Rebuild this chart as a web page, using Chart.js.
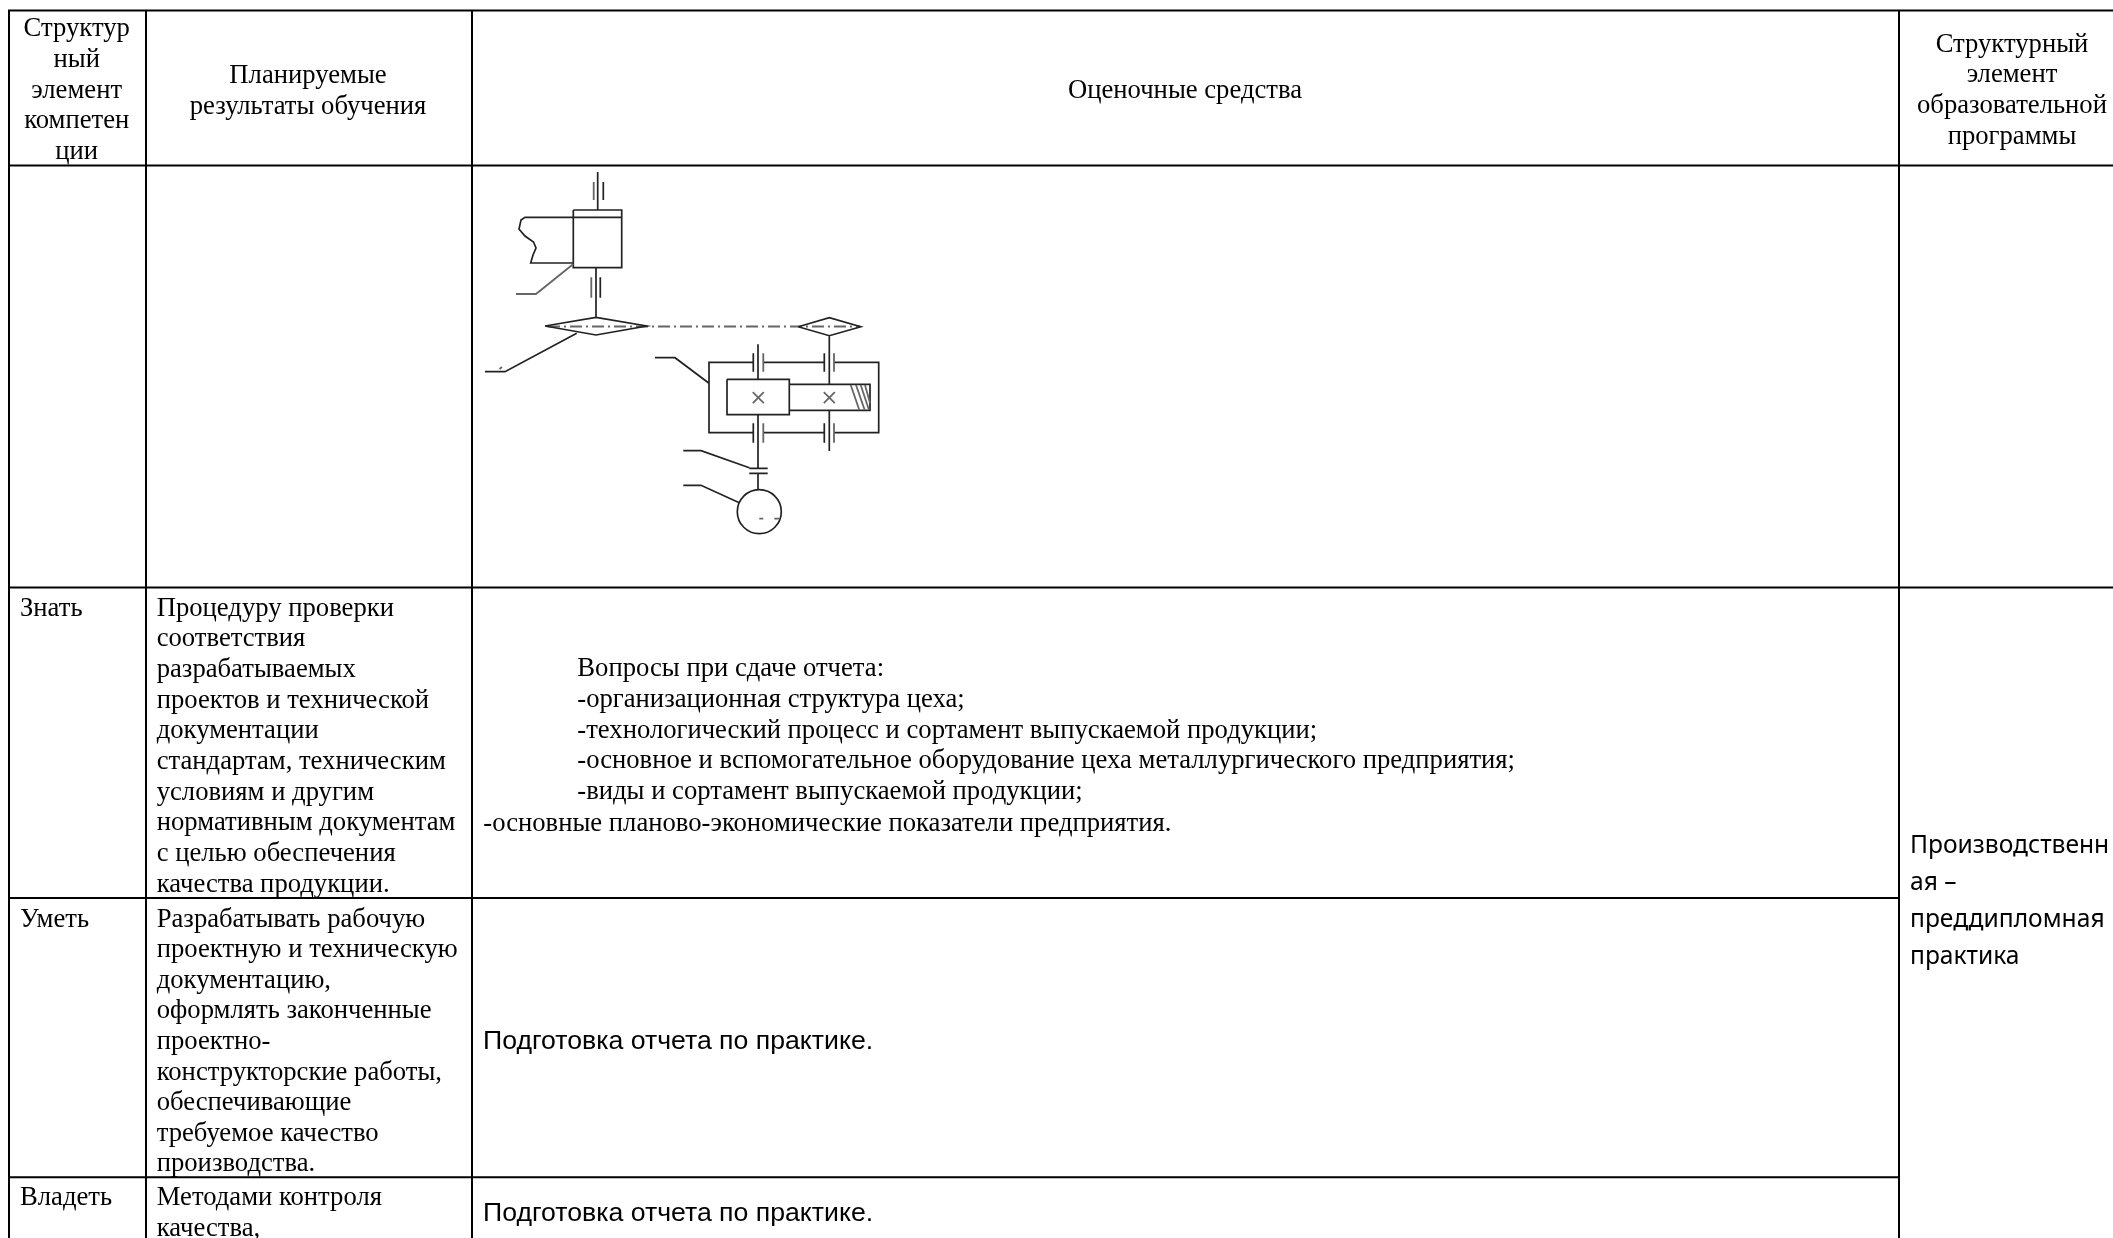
<!DOCTYPE html>
<html lang="ru"><head><meta charset="utf-8">
<style>html,body{margin:0;padding:0;background:#fff}canvas{display:block}</style>
<script src="https://cdn.jsdelivr.net/npm/chart.js@4"></script></head>
<body><canvas id="c" width="2113" height="1238"></canvas>
<script>
// --- table contents ---
const headerElement = ["Структур","ный","элемент","компетен","ции"];
const headerResults = ["Планируемые","результаты обучения"];
const headerTools = ["Оценочные средства"];
const headerProgram = ["Структурный","элемент","образовательной","программы"];
const levels = ["Знать","Уметь","Владеть"];
const knowResults = ["Процедуру проверки","соответствия","разрабатываемых","проектов и технической","документации","стандартам, техническим","условиям и другим","нормативным документам","с целью обеспечения","качества продукции."];
const canResults = ["Разрабатывать рабочую","проектную и техническую","документацию,","оформлять законченные","проектно-","конструкторские работы,","обеспечивающие","требуемое качество","производства."];
const ownResults = ["Методами контроля","качества,"];
const questions = ["Вопросы при сдаче отчета:","-организационная структура цеха;","-технологический процесс и сортамент выпускаемой продукции;","-основное и вспомогательное оборудование цеха металлургического предприятия;","-виды и сортамент выпускаемой продукции;"];
const questionsLast = ["-основные планово-экономические показатели предприятия."];
const reportTask = ["Подготовка отчета по практике."];
const programName = ["Производственн","ая –","преддипломная","практика"];

// --- table grid, in the units of the x and y scales ---
const columnEdges = [9,146,472,1899];
const fullRows = [10.5,165.5,587.5];
const partRows = [898,1177.3];
const pageRight = 2113, pageBottom = 1238;

// --- kinematic scheme strokes, in the same units ---
const schemeDark = [
 [[597.7,172],[597.7,210]],[[603.3,182],[603.3,200]],
 [[573.3,210],[621.7,210],[621.7,267.7],[573.3,267.7],[573.3,210]],
 [[573.3,217.3],[621.7,217.3]],
 [[573.3,263],[530.7,263],[533,255],[536,248],[533.5,242],[525,236],[519,229],[521,220],[525,217.3],[573.3,217.3]],
 [[596,267.7],[596,317.3]],[[600.3,277.3],[600.3,297.7]],
 [[545,326],[596,317.3],[646.7,326],[596,335],[545,326]],
 [[576.7,333.3],[505,371.7],[485,371.7]],
 [[798.3,326.7],[829.3,317.7],[860.7,326.7],[829.3,335.7],[798.3,326.7]],
 [[829.3,335.7],[829.3,384.3]],[[829.3,410.3],[829.3,451]],
 [[758,344.3],[758,379.3]],[[758,414.7],[758,468.3]],[[758,473.3],[758,489.3]],
 [[753.3,353.3],[753.3,371.7]],[[824.3,353.3],[824.3,371.7]],
 [[753.3,423.3],[753.3,442.7]],[[824.3,423.3],[824.3,442.7]],
 [[753.3,362.3],[709,362.3],[709,432.7],[753.3,432.7]],
 [[763.3,362.3],[824.3,362.3]],[[763.3,432.7],[824.3,432.7]],
 [[834,362.3],[878.7,362.3],[878.7,432.7],[834,432.7]],
 [[727,379.3],[789.3,379.3],[789.3,414.7],[727,414.7],[727,379.3]],
 [[789.3,384.3],[870,384.3],[870,410.3],[789.3,410.3]],
 [[749.3,468.3],[767.7,468.3]],[[749.3,473.3],[767.7,473.3]],
 [[683.3,450.7],[701,450.7],[749.3,467.7]],
 [[683.3,485.3],[701,485.3],[739.3,502.7]],
 [[655,357.7],[675,357.7],[709,383.3]]
];
const schemeGrey = [
 [[593.7,182],[593.7,200]],[[591.3,277.3],[591.3,297.7]],
 [[763.3,353.3],[763.3,371.7]],[[834,353.3],[834,371.7]],
 [[763.3,423.3],[763.3,442.7]],[[834,423.3],[834,442.7]],
 [[516,294],[536,294],[573.3,264]],
 [[752.8,392.2],[763.8,403.2]],[[763.8,392.2],[752.8,403.2]],
 [[823.8,392.2],[834.8,403.2]],[[834.8,392.2],[823.8,403.2]],
 [[850.7,385],[859.3,410]],[[856,385],[864.7,410]],[[860.7,385],[869,410]],[[865,385],[870,403]],
 [[759.3,518.7],[763.3,518.7]],[[774.3,518.7],[779.3,518.7]],[[499.5,369],[502,367]]
];
const chainLine = [[[548,326.4],[860,326.4]]];
const motorCircle = [[759.3,511.7]];

// --- text placement: [lines, x, first baseline, line step, font, align] ---
const serif = '26.67px "Liberation Serif"';
const sans = '26.67px "Liberation Sans"';
const wide = '24.6px "Noto Sans"';
const textBlocks = [
 [headerElement,76.7,36,30.8,serif,"center"],
 [headerResults,308,83,30.8,serif,"center"],
 [headerTools,1185,98,30.8,serif,"center"],
 [headerProgram,2012,51.5,30.8,serif,"center"],
 [[levels[0]],20,615.5,30.7,serif,"left"],
 [[levels[1]],20,926.5,30.7,serif,"left"],
 [[levels[2]],20,1205,30.7,serif,"left"],
 [knowResults,156.7,615.5,30.7,serif,"left"],
 [canResults,156.7,926.5,30.62,serif,"left"],
 [ownResults,156.7,1205,30.7,serif,"left"],
 [questions,577.3,676,30.8,serif,"left"],
 [questionsLast,483.3,830.5,31,serif,"left"],
 [reportTask,483,1049,30,sans,"left"],
 [reportTask,483,1221,30,sans,"left"],
 [programName,1910,853,37,wide,"left"]
];

function strokes(list){
  const out=[];
  list.forEach((s,i)=>{ if(i) out.push({x:null,y:null}); s.forEach(p=>out.push({x:p[0],y:p[1]})); });
  return out;
}
const tableLines = [
  ...columnEdges.map(x=>[[x,fullRows[0]-1],[x,pageBottom]]),
  ...fullRows.map(y=>[[columnEdges[0]-1,y],[pageRight,y]]),
  ...partRows.map(y=>[[columnEdges[0]-1,y],[columnEdges[3],y]])
];
const lineSet=(list,color,width,dash)=>({type:"scatter",data:strokes(list),showLine:true,spanGaps:false,
  borderColor:color,borderWidth:width,borderDash:dash||[],pointRadius:0,tension:0,fill:false});

const textPlugin={id:"cellText",afterDatasetsDraw(chart){
  const {ctx,scales:{x,y}}=chart;
  ctx.save();ctx.fillStyle="#000";ctx.textBaseline="alphabetic";
  textBlocks.forEach(([lines,tx,ty,step,font,align])=>{
    ctx.font=font;ctx.textAlign=align;
    lines.forEach((t,i)=>ctx.fillText(t,x.getPixelForValue(tx),y.getPixelForValue(ty+i*step)));
  });
  ctx.restore();
}};
const whiteBack={id:"whiteBack",beforeDraw(c){const g=c.ctx;g.save();g.fillStyle="#fff";g.fillRect(0,0,c.width,c.height);g.restore();}};

new Chart(document.getElementById("c"),{
  type:"scatter",
  data:{datasets:[
    lineSet(schemeGrey,"#666",1.8),
    lineSet(schemeDark,"#222",1.7),
    lineSet(chainLine,"#666",2,[12,4,2,4]),
    {type:"scatter",data:motorCircle.map(p=>({x:p[0],y:p[1]})),pointRadius:22,pointStyle:"circle",
     pointBackgroundColor:"rgba(0,0,0,0)",pointBorderColor:"#222",pointBorderWidth:1.7,showLine:false},
    lineSet(tableLines,"#000",2)
  ]},
  options:{responsive:false,animation:false,events:[],
    layout:{padding:0,autoPadding:false},
    plugins:{legend:{display:false},tooltip:{enabled:false},title:{display:false}},
    scales:{
      x:{type:"linear",min:0,max:pageRight,display:false},
      y:{type:"linear",min:0,max:pageBottom,reverse:true,display:false}
    }},
  plugins:[whiteBack,textPlugin]
});
</script></body></html>
